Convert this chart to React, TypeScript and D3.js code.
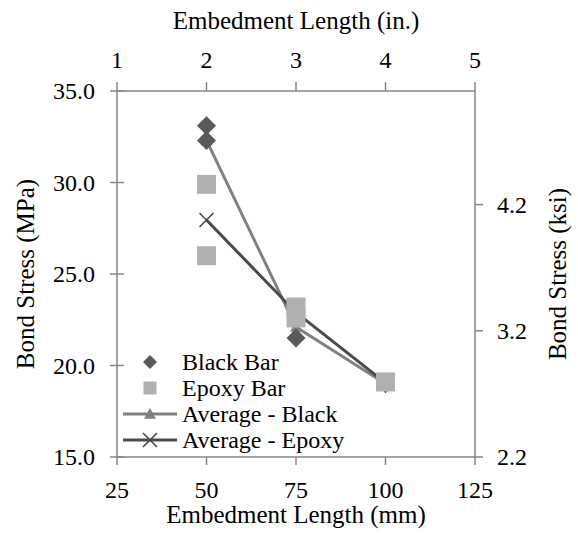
import React from "react";
import * as d3 from "d3";

// Embedment lengths and bond stresses (MPa)
const embedmentMm = [50, 75, 100];
const blackBarMm = [50, 50, 75, 100];
const blackBarMPa = [33.1, 32.3, 21.5, 19.0];
const epoxyBarMm = [50, 50, 75, 75, 100];
const epoxyBarMPa = [29.9, 26.0, 23.2, 22.6, 19.1];
const averageBlack = [32.3, 22.1, 19.0];
const averageEpoxy = [27.95, 22.9, 19.05];

const mmTicks = [25, 50, 75, 100, 125];
const inchTicks = [1, 2, 3, 4, 5];
const mpaTicks = [15, 20, 25, 30, 35];
const ksiTicks = [2.2, 3.2, 4.2];

const legendLabels = ["Black Bar", "Epoxy Bar", "Average - Black", "Average - Epoxy"];

const W = 578;
const H = 550;
const left = 117;
const right = 475;
const top = 91;
const bottom = 457;

const FONT = "Times New Roman, Times, Tinos, Liberation Serif, DejaVu Serif, Noto Serif, FreeSerif, serif";
const AXIS = "#868686";
const BLACK_MARK = "#595959";
const EPOXY_MARK = "#b0b0b0";
const AVG_BLACK = "#808080";
const AVG_EPOXY = "#4a4a4a";

const x = d3.scaleLinear().domain([25, 125]).range([left, right]);
const xTop = d3.scaleLinear().domain([1, 5]).range([left, right]);
const y = d3.scaleLinear().domain([15, 35]).range([bottom, top]);
const yRight = d3.scaleLinear().domain([2.2, 5.1]).range([bottom, top]);

const diamond = (cx: number, cy: number, r: number) =>
  `M${cx},${cy - r}L${cx + r},${cy}L${cx},${cy + r}L${cx - r},${cy}Z`;
const triangle = (cx: number, cy: number, r: number) =>
  `M${cx},${cy - r}L${cx + r},${cy + r * 0.8}L${cx - r},${cy + r * 0.8}Z`;
const cross = (cx: number, cy: number, r: number) =>
  `M${cx - r},${cy - r}L${cx + r},${cy + r}M${cx - r},${cy + r}L${cx + r},${cy - r}`;

export default function App() {
  const line = d3
    .line<number>()
    .x((_, i) => x(embedmentMm[i]))
    .y((d) => y(d));

  const legendY = [362, 388, 414, 440];

  return (
    <svg
      width={W}
      height={H}
      style={{ position: "absolute", left: 0, top: 0, background: "#fff" }}
    >
      <rect x={0} y={0} width={W} height={H} fill="#fff" />

      {/* axes frame */}
      <g stroke={AXIS} strokeWidth={1.5} fill="none">
        <line x1={left} y1={top} x2={left} y2={bottom} />
        <line x1={right} y1={top} x2={right} y2={bottom} />
        <line x1={left} y1={bottom} x2={right} y2={bottom} />
        <line x1={left} y1={top} x2={right} y2={top} />
        {mpaTicks.map((t) => (
          <line key={"l" + t} x1={left - 7} x2={left + 7} y1={y(t)} y2={y(t)} />
        ))}
        {ksiTicks.map((t) => (
          <line key={"r" + t} x1={right} x2={right + 8} y1={yRight(t)} y2={yRight(t)} />
        ))}
        {mmTicks.map((t) => (
          <line key={"b" + t} x1={x(t)} x2={x(t)} y1={bottom} y2={bottom + 8} />
        ))}
        {inchTicks.map((t) => (
          <line key={"t" + t} x1={xTop(t)} x2={xTop(t)} y1={top - 9} y2={top} />
        ))}
      </g>

      {/* tick labels */}
      <g fontSize={24} fill="#000" style={{ fontFamily: FONT }}>
        {mpaTicks.map((t) => (
          <text key={"lt" + t} x={95} y={y(t)} textAnchor="end" dominantBaseline="central">
            {t.toFixed(1)}
          </text>
        ))}
        {ksiTicks.map((t) => (
          <text key={"rt" + t} x={497} y={yRight(t)} textAnchor="start" dominantBaseline="central">
            {t.toFixed(1)}
          </text>
        ))}
        {mmTicks.map((t) => (
          <text key={"bt" + t} x={x(t)} y={498} textAnchor="middle">
            {t}
          </text>
        ))}
        {inchTicks.map((t) => (
          <text key={"tt" + t} x={xTop(t)} y={68} textAnchor="middle">
            {t}
          </text>
        ))}
      </g>

      {/* axis titles */}
      <g fontSize={25} fill="#000" style={{ fontFamily: FONT }}>
        <text x={(left + right) / 2} y={523} textAnchor="middle">
          Embedment Length (mm)
        </text>
        <text x={(left + right) / 2} y={29} textAnchor="middle">
          Embedment Length (in.)
        </text>
        <text
          transform={`translate(25,${(top + bottom) / 2}) rotate(-90)`}
          textAnchor="middle"
          dominantBaseline="central"
        >
          Bond Stress (MPa)
        </text>
        <text
          transform={`translate(557,${(top + bottom) / 2}) rotate(-90)`}
          textAnchor="middle"
          dominantBaseline="central"
        >
          Bond Stress (ksi)
        </text>
      </g>

      {/* average lines */}
      <path d={line(averageBlack) ?? ""} fill="none" stroke={AVG_BLACK} strokeWidth={3} />
      {averageBlack.map((v, i) => (
        <path key={"ab" + i} d={triangle(x(embedmentMm[i]), y(v), 6)} fill={AVG_BLACK} />
      ))}
      <path d={line(averageEpoxy) ?? ""} fill="none" stroke={AVG_EPOXY} strokeWidth={3} />
      {averageEpoxy.map((v, i) => (
        <path
          key={"ae" + i}
          d={cross(x(embedmentMm[i]), y(v), 7)}
          fill="none"
          stroke={AVG_EPOXY}
          strokeWidth={1.6}
        />
      ))}

      {/* specimen results */}
      {blackBarMPa.map((v, i) => (
        <path key={"b" + i} d={diamond(x(blackBarMm[i]), y(v), 9.5)} fill={BLACK_MARK} />
      ))}
      {epoxyBarMPa.map((v, i) => (
        <rect
          key={"e" + i}
          x={x(epoxyBarMm[i]) - 9.5}
          y={y(v) - 9.5}
          width={19}
          height={19}
          fill={EPOXY_MARK}
        />
      ))}

      {/* legend */}
      <g>
        <path d={diamond(150, legendY[0], 7)} fill={BLACK_MARK} />
        <rect x={143.5} y={legendY[1] - 6.5} width={13} height={13} fill={EPOXY_MARK} />
        <line x1={123} x2={177} y1={legendY[2]} y2={legendY[2]} stroke={AVG_BLACK} strokeWidth={3} />
        <path d={triangle(150, legendY[2], 6)} fill={AVG_BLACK} />
        <line x1={123} x2={177} y1={legendY[3]} y2={legendY[3]} stroke={AVG_EPOXY} strokeWidth={3} />
        <path d={cross(150, legendY[3], 7)} fill="none" stroke={AVG_EPOXY} strokeWidth={1.6} />
        {legendLabels.map((label, i) => (
          <text
            key={label}
            x={182}
            y={legendY[i]}
            fontSize={24}
            dominantBaseline="central"
            fill="#000"
            style={{ fontFamily: FONT }}
          >
            {label}
          </text>
        ))}
      </g>
    </svg>
  );
}
